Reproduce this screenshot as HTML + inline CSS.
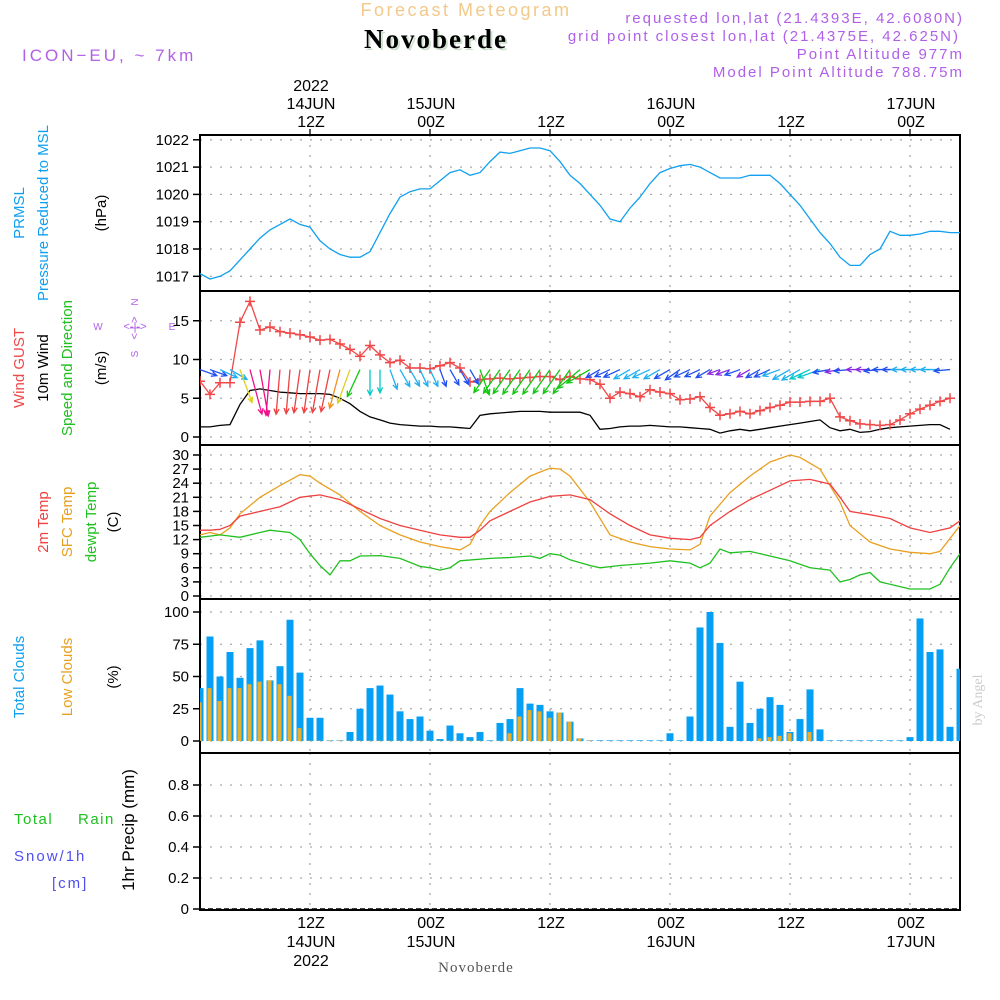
<!DOCTYPE html>
<html><head><meta charset="utf-8"><style>
html,body{margin:0;padding:0;background:#fff;}
svg{display:block;font-family:"Liberation Sans",sans-serif;}
</style></head><body>
<svg id="chart" width="1000" height="1000" viewBox="0 0 1000 1000" xmlns="http://www.w3.org/2000/svg">
<defs><clipPath id="clipAll"><rect x="200" y="130" width="760" height="790"/></clipPath></defs>
<rect width="1000" height="1000" fill="#fff"/>
<text x="466" y="16" text-anchor="middle" font-size="18" fill="#f2c98a" letter-spacing="2.5">Forecast Meteogram</text>
<text x="438" y="50" text-anchor="middle" font-size="27" font-weight="bold" font-family="Liberation Serif, serif" fill="#cfe0cf" letter-spacing="2">Novoberde</text>
<text x="436" y="48" text-anchor="middle" font-size="27" font-weight="bold" font-family="Liberation Serif, serif" fill="#000" letter-spacing="2">Novoberde</text>
<text x="22" y="61" font-size="17" fill="#b060e8" letter-spacing="3">ICON−EU, ~ 7km</text>
<g font-size="15" fill="#b060e8" text-anchor="end" letter-spacing="2">
<text x="964" y="23">requested lon,lat (21.4393E, 42.6080N)</text>
<text x="960" y="41">grid point closest lon,lat (21.4375E, 42.625N)</text>
<text x="964" y="59">Point Altitude 977m</text>
<text x="964" y="77">Model Point Altitude 788.75m</text>
</g>
<g id="axes"></g>
<g id="marks" clip-path="url(#clipAll)"></g>
<g id="labels"></g>
<text x="476" y="972" text-anchor="middle" font-size="15" font-family="Liberation Serif, serif" fill="#555" letter-spacing="1">Novoberde</text>
<text transform="translate(982,700) rotate(-90)" text-anchor="middle" font-size="14" font-family="Liberation Serif, serif" fill="#ccc">by Angel</text>
</svg>
<script>
// ---- data (hours from 00Z 14JUN) ----
const pressure = [1017.1,1016.9,1017.0,1017.2,1017.6,1018.0,1018.4,1018.7,1018.9,1019.1,1018.9,1018.8,1018.3,1018.0,1017.8,1017.7,1017.7,1017.9,1018.6,1019.3,1019.9,1020.1,1020.2,1020.2,1020.5,1020.8,1020.9,1020.7,1020.8,1021.2,1021.55,1021.5,1021.6,1021.7,1021.7,1021.6,1021.2,1020.7,1020.4,1020.0,1019.6,1019.1,1019.0,1019.5,1019.9,1020.4,1020.8,1020.95,1021.05,1021.1,1021.0,1020.8,1020.6,1020.6,1020.6,1020.7,1020.7,1020.7,1020.4,1020.0,1019.6,1019.1,1018.6,1018.2,1017.7,1017.4,1017.4,1017.8,1018.0,1018.65,1018.5,1018.5,1018.55,1018.65,1018.65,1018.6,1018.6,1018.85,1018.95,1019.0];
const gust = [7.2,5.5,7.0,7.0,14.8,17.5,13.8,14.2,13.6,13.4,13.2,12.9,12.5,12.6,12.0,11.3,10.4,11.8,10.6,9.6,9.9,8.9,8.9,8.8,9.2,9.6,8.9,7.1,7.4,7.5,7.6,7.5,7.6,7.7,7.8,7.8,7.4,7.8,7.5,7.4,6.8,5.0,5.8,5.6,5.2,6.1,5.8,5.6,4.8,4.9,5.2,3.8,2.8,3.0,3.3,3.0,3.4,3.8,4.1,4.5,4.5,4.6,4.6,5.0,2.6,2.1,1.7,1.6,1.5,1.6,2.2,3.0,3.6,4.1,4.6,5.0];
const windSpeed = [1.3,1.3,1.5,1.6,4.2,6.0,6.2,6.0,5.8,5.7,5.6,5.6,5.6,5.5,5.0,4.3,3.3,2.6,2.2,1.8,1.6,1.5,1.4,1.4,1.3,1.3,1.2,1.1,2.8,3.0,3.1,3.2,3.3,3.3,3.3,3.2,3.2,3.2,3.2,2.8,1.0,1.1,1.3,1.4,1.4,1.5,1.4,1.3,1.3,1.2,1.1,1.0,0.5,0.8,1.0,0.8,1.0,1.2,1.4,1.6,1.8,2.0,2.2,1.2,0.8,1.0,0.6,0.7,1.0,1.2,1.3,1.4,1.5,1.6,1.6,1.0];
const windDir = [290,290,295,300,340,345,350,5,5,5,8,8,10,12,15,20,25,0,0,340,330,330,335,335,340,330,330,330,340,35,35,35,35,35,35,35,35,35,50,60,60,65,65,60,60,65,60,60,55,65,65,60,70,70,70,60,60,65,70,60,60,65,70,80,80,85,90,90,85,90,90,90,90,90,90,85];
const t2mHours = [1,2,3,4,5,7,9,11,13,15,17,19,21,23,25,27,28,29,30,32,34,36,38,40,42,44,46,48,50,51,52,54,56,58,60,62,64,65,66,68,70,72,74,76,77];
const t2m = [14,14,14.2,15,17,18,19,21,21.5,20.5,18.5,16.5,15,14,13,12.5,12.5,14,16,18,20,21.2,21.5,20.5,17.5,15,13,12.3,12,12.5,15,18,20.5,22.5,24.5,24.8,23.8,21,18,17.3,16.5,14.5,13.5,14.5,16];
const sfcHours = [1,2,3,4,5,7,9,11,12,13,15,17,19,21,23,25,27,28,29,30,32,34,36,37,38,40,42,44,46,48,50,51,52,54,56,58,60,61,63,65,66,68,70,72,74,75,77];
const sfcTemp = [13,13.5,13,14.5,17.5,21,23.5,25.8,25.5,24,21.5,18,15,13,11.5,10.5,9.8,11,15,18,22,25.5,27.2,27,25.5,20,13,11.5,10.5,10,9.8,11,17,22,25.5,28.5,30,29.5,27,20,15,11.5,10,9.3,9,9.5,15];
const dewHours = [1,3,5,7,8,10,11,12,13,14,15,16,17,19,21,23,24,25,26,27,30,32,34,35,36,37,38,40,41,43,46,48,50,51,52,53,54,56,58,60,62,64,65,66,67,68,69,71,72,74,75,76,77];
const dewpt = [12.5,13,12.5,13.5,14,13.5,12,9,6.5,4.5,7.5,7.5,8.5,8.6,8,6.3,6,5.5,6,7.5,8,8.2,8.5,8,9,8.7,7.7,6.5,6,6.5,7,7.5,7,6,7,10,9.2,9.5,8.5,7.5,6,5.5,3,3.5,4.5,5,3,2,1.5,1.5,2.5,6,9];
const totalClouds = [41,81,50,69,49,72,78,47,58,94,53,18,18,0.5,0.5,7,25,41,43,36,23,17,19,8,1.5,12,6,3,7,0.5,14,17,41,29,28,23,22,15,2,0.5,0.5,0.5,0.5,0.5,0.5,0.5,0.5,6,0.5,19,88,100,76,11,46,14,25,34,28,7,17,40,9,0.5,0.5,0.5,0.5,0.5,0.5,0.5,0.5,3,95,69,71,11,56];
const lowClouds = [30,41,31,41,41,44,46,47,44,35,10,0.3,0.3,0.3,0.3,0.3,0.3,0.3,0.3,0.3,0.3,0.3,0.3,0.3,0.3,0.3,0.3,0.3,0.3,0,0.3,6,19,24,23,18,22,15,2,0.3,0,0,0,0,0,0,0,0,0,0,0,0,0,0,0,0,2,3,4,6,0,7,0,0,0,0,0,0,0,0,0,0,0,0,0,0,0];
const pTicks = [1017,1018,1019,1020,1021,1022];
const wTicks = [0,5,10,15];
const tTicks = [0,3,6,9,12,15,18,21,24,27,30];
const cTicks = [0,25,50,75,100];
const rTicks = [0,0.2,0.4,0.6,0.8];
const timeTicksTop = [[12,'2022','14JUN','12Z'],[24,'','15JUN','00Z'],[36,'','','12Z'],[48,'','16JUN','00Z'],[60,'','','12Z'],[72,'','17JUN','00Z']];
const timeTicksBottom = [[12,'12Z','14JUN','2022'],[24,'00Z','15JUN',''],[36,'12Z','',''],[48,'00Z','16JUN',''],[60,'12Z','',''],[72,'00Z','17JUN','']];

// ---- axes ----
const X = h => 190 + 10*h;
const yP = v => 249 - (v-1018)*27.3;
const yW = v => 437 - v*7.75;
const yT = v => 596 - v*4.7;
const yC = v => 741 - v*1.29;
const yR = v => 909 - v*155;
const panels = [[135,291,'pressure-panel'],[291,445,'wind-panel'],[445,599,'temperature-panel'],[599,753,'cloud-panel'],[753,910,'precip-panel']];

const NS='http://www.w3.org/2000/svg';
function mk(tag, attrs, parent, txt){const e=document.createElementNS(NS,tag);for(const k in attrs)e.setAttribute(k,attrs[k]);if(txt!==undefined)e.textContent=txt;parent.appendChild(e);return e;}
const axes=document.getElementById('axes'), marks=document.getElementById('marks'), labels=document.getElementById('labels');

function yTicks(ticks, yf, name, fmt){
  ticks.forEach(v=>{
    const y=yf(v);
    const g=mk('line',{x1:200,x2:960,y1:y,y2:y,stroke:'#aaa','stroke-width':1.3,'stroke-dasharray':'2 8'},axes);
    
    
    mk('line',{x1:193,x2:200,y1:y,y2:y,stroke:'#000','stroke-width':1.5},axes);
    const t=mk('text',{x:189,y:y+5,'text-anchor':'end','font-size':15,fill:'#000'},axes,fmt?fmt(v):String(v));
    
    
  });
}
panels.forEach(p=>{
  [12,24,36,48,60,72].forEach(h=>{
    const l=mk('line',{x1:X(h),x2:X(h),y1:p[0],y2:p[1],stroke:'#aaa','stroke-width':1.3,'stroke-dasharray':'2 8'},axes);
    
    
  });
});
yTicks(pTicks,yP,'pressure');
yTicks(wTicks,yW,'wind');
yTicks(tTicks,yT,'temp');
yTicks(cTicks,yC,'cloud');
yTicks(rTicks,yR,'precip',v=>v===0?'0':v.toFixed(1));
panels.forEach(p=>{
  const r=mk('rect',{x:200,y:p[0],width:760,height:p[1]-p[0],fill:'none',stroke:'#000','stroke-width':2},axes);
  
  
});
mk('line',{x1:200,x2:960,y1:909,y2:909,stroke:'#000','stroke-width':1.5,'stroke-dasharray':'5 3'},axes);
timeTicksTop.forEach(t=>{
  mk('line',{x1:X(t[0]),x2:X(t[0]),y1:129,y2:135,stroke:'#000','stroke-width':1.3},axes);
  [[t[1],91],[t[2],109],[t[3],127]].forEach(s=>{ if(s[0]){const e=mk('text',{x:X(t[0])+1,y:s[1],'text-anchor':'middle','font-size':16,fill:'#000'},labels,s[0]);
    
    }});
});
timeTicksBottom.forEach(t=>{
  [[t[1],928],[t[2],947],[t[3],966]].forEach(s=>{ if(s[0]){const e=mk('text',{x:X(t[0])+1,y:s[1],'text-anchor':'middle','font-size':16,fill:'#000'},labels,s[0]);
    
    }});
});

// ---- series ----
function line(xs, ys, color, name, w){
  const d=xs.map((x,i)=>(i?'L':'M')+x.toFixed(1)+' '+ys[i].toFixed(1)).join(' ');
  const p=mk('path',{d:d,fill:'none',stroke:color,'stroke-width':w||1.3},marks);
  
  
}
line(pressure.map((v,i)=>X(i+1)), pressure.map(yP), '#10a0f0','pressure-line');
line(windSpeed.map((v,i)=>X(i+1)), windSpeed.map(yW), '#000','wind-speed-line');
line(gust.map((v,i)=>X(i+1)), gust.map(yW), '#f04848','wind-gust-line');
gust.forEach((v,i)=>{
  const x=X(i+1), y=yW(v);
  const m=mk('path',{d:`M${x-5} ${y}L${x+5} ${y}M${x} ${y-5}L${x} ${y+5}`,stroke:'#f04848','stroke-width':1.5},marks);
  
  
});
function windColor(s){ if(s<1)return '#8a2be2'; if(s<1.4)return '#2050f0'; if(s<2)return '#20b0f0'; if(s<2.7)return '#00c8c8'; if(s<3.6)return '#10c810'; if(s<4.5)return '#e0d020'; if(s<5.3)return '#f09020'; if(s<5.9)return '#f04040'; return '#f0108a'; }
windDir.forEach((d,i)=>{
  const s=windSpeed[i], x=X(i+1), y=yW(8.7);
  const len=6*s+10, a=(d+180)*Math.PI/180;
  const x2=x+len*Math.sin(a), y2=y-len*Math.cos(a);
  const c=windColor(s);
  const ang=Math.atan2(y2-y,x2-x);
  const h1x=x2-6*Math.cos(ang-0.45), h1y=y2-6*Math.sin(ang-0.45), h2x=x2-6*Math.cos(ang+0.45), h2y=y2-6*Math.sin(ang+0.45);
  const ar=mk('path',{d:`M${x} ${y}L${x2} ${y2}M${h1x} ${h1y}L${x2} ${y2}L${h2x} ${h2y}`,stroke:c,'stroke-width':1.3,fill:'none'},marks);
  
  
});
line(sfcHours.map(X), sfcTemp.map(yT), '#e8a020','sfc-temp-line');
line(t2mHours.map(X), t2m.map(yT), '#f04040','2m-temp-line');
line(dewHours.map(X), dewpt.map(yT), '#20c020','dewpoint-line');
totalClouds.forEach((v,i)=>{
  const x=X(i+1);
  const b=mk('rect',{x:x-3.5,y:yC(v),width:7,height:yC(0)-yC(v),fill:'#05a0f5'},marks);
  
  
  const lv=lowClouds[i];
  if(lv>0){const o=mk('rect',{x:x-2.5,y:yC(lv),width:4,height:yC(0)-yC(lv),fill:'#e8b030'},marks);
  
  }
});

// ---- side labels ----
function vlab(x,y,txt,color,name,size){
  const t=mk('text',{transform:`translate(${x},${y}) rotate(-90)`,'text-anchor':'middle','font-size':size||15,fill:color},labels,txt);
  
  
}
vlab(24,213,'PRMSL','#10a0f0','prmsl-label');
vlab(48,213,'Pressure Reduced to MSL','#10a0f0','pressure-axis-title');
vlab(106,213,'(hPa)','#000','pressure-unit');
vlab(24,368,'Wind GUST','#f04848','gust-label');
vlab(48,368,'10m Wind','#000','wind-label');
vlab(72,368,'Speed and Direction','#20c020','wind-axis-title');
vlab(106,368,'(m/s)','#000','wind-unit');
vlab(48,522,'2m Temp','#f04040','t2m-label');
vlab(72,522,'SFC Temp','#e8a020','sfc-temp-label');
vlab(96,522,'dewpt Temp','#20c020','dewpoint-label');
vlab(118,522,'(C)','#000','temp-unit');
vlab(24,677,'Total Clouds','#10a0f0','total-clouds-label');
vlab(72,677,'Low Clouds','#e8a020','low-clouds-label');
vlab(118,677,'(%)','#000','cloud-unit');
vlab(134,830,'1hr Precip (mm)','#000','precip-axis-title',17);
const tr=mk('text',{x:14,y:824,'font-size':15,fill:'#20c020','letter-spacing':'1.5'},labels,'Total');


const tr2=mk('text',{x:78,y:824,'font-size':15,fill:'#20c020','letter-spacing':'1.5'},labels,'Rain');


const sn=mk('text',{x:14,y:861,'font-size':15,fill:'#5050f0','letter-spacing':'2'},labels,'Snow/1h');


const cm=mk('text',{x:52,y:888,'font-size':15,fill:'#5050f0','letter-spacing':'2'},labels,'[cm]');


const cg=mk('g',{fill:'#b060e8','font-size':10,'text-anchor':'middle'},labels);


mk('text',{x:98,y:330},cg,'W');
mk('text',{x:172,y:330},cg,'E');
mk('text',{transform:'translate(138,302) rotate(-90)'},cg,'N');
mk('text',{transform:'translate(138,354) rotate(-90)'},cg,'S');
mk('text',{x:135,y:330,'font-size':11},cg,'<-|->');
mk('text',{transform:'translate(138,328) rotate(-90)','font-size':11},cg,'<-|->');
</script>
</body></html>
